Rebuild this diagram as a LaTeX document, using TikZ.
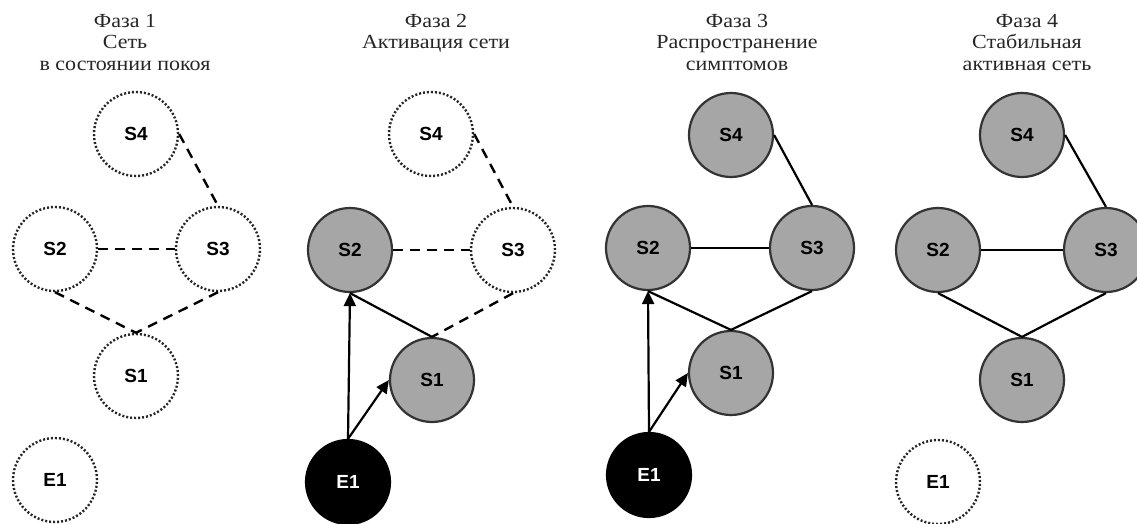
\documentclass[tikz,border=0pt]{standalone}
\usepackage{fontspec}
\usetikzlibrary{arrows.meta}
\newfontfamily\ttlfont[FakeStretch=1.1]{Liberation Serif}
\newfontfamily\lblfont{Liberation Sans}
\definecolor{nodegray}{HTML}{A6A6A6}
\definecolor{rimgray}{HTML}{333333}
\begin{document}
\begin{tikzpicture}[x=1pt,y=-1pt,
  ttl/.style={anchor=base,inner sep=0pt,font=\ttlfont\fontsize{20}{21}\selectfont,text=black!85},
  nd/.style={circle,minimum size=84pt,inner sep=0pt,font=\lblfont\bfseries\fontsize{19}{19}\selectfont},
  sgray/.style={nd,fill=nodegray,draw=rimgray,line width=2.2pt},
  sblack/.style={nd,fill=black,draw=black,line width=2.2pt,text=white},
  sdot/.style={nd,draw=black!85,line width=2.4pt,dash pattern=on 2pt off 2pt},
  dedge/.style={draw=black,line width=2.4pt,dash pattern=on 10pt off 7pt},
  sedge/.style={draw=black,line width=2.2pt},
  arr/.style={sedge,-{Triangle[length=13pt,width=12pt]}}]
\useasboundingbox (0,0) rectangle (1137,524);

% ---------- Panel 1 ----------
\node[ttl] (t1a) at (125,28) {Фаза 1};
\node[ttl] (t1b) at (125,49) {Сеть};
\node[ttl] (t1c) at (125,71) {в состоянии покоя};
\node[sdot] (a4) at (136,134) {S4};
\node[sdot] (a2) at (55,249) {S2};
\node[sdot] (a3) at (218,249) {S3};
\node[sdot] (a1) at (136,376) {S1};
\node[sdot] (ae) at (55,480) {E1};
\draw[dedge] (a4.east) -- (a3.north);
\draw[dedge] (a2.east) -- (a3.west);
\draw[dedge] (a2.south) -- (a1.north);
\draw[dedge] (a3.south) -- (a1.north);

% ---------- Panel 2 ----------
\node[ttl] (t2a) at (436,28) {Фаза 2};
\node[ttl] (t2b) at (436,49) {Активация сети};
\node[sdot] (b4) at (431,134) {S4};
\node[sgray] (b2) at (350,250) {S2};
\node[sdot] (b3) at (513,250) {S3};
\node[sgray] (b1) at (432,380) {S1};
\node[sblack] (be) at (348,482) {E1};
\draw[dedge] (b4.east) -- (b3.north);
\draw[dedge] (b2.east) -- (b3.west);
\draw[sedge] (b2.south) -- (b1.north);
\draw[dedge] (b3.south) -- (b1.north);
\draw[arr] (be.north) -- (b2.south);
\draw[arr] (be.north) -- (b1.west);

% ---------- Panel 3 ----------
\node[ttl] (t3a) at (737,28) {Фаза 3};
\node[ttl] (t3b) at (737,49) {Распространение};
\node[ttl] (t3c) at (737,71) {симптомов};
\node[sgray] (c4) at (731,135) {S4};
\node[sgray] (c2) at (648,248) {S2};
\node[sgray] (c3) at (812,248) {S3};
\node[sgray] (c1) at (731,373) {S1};
\node[sblack] (ce) at (649,475) {E1};
\draw[sedge] (c4.east) -- (c3.north);
\draw[sedge] (c2.east) -- (c3.west);
\draw[sedge] (c2.south) -- (c1.north);
\draw[sedge] (c3.south) -- (c1.north);
\draw[arr] (ce.north) -- (c2.south);
\draw[arr] (ce.north) -- (c1.west);

% ---------- Panel 4 ----------
\node[ttl] (t4a) at (1027,28) {Фаза 4};
\node[ttl] (t4b) at (1027,49) {Стабильная};
\node[ttl] (t4c) at (1027,71) {активная сеть};
\node[sgray] (d4) at (1022,135) {S4};
\node[sgray] (d2) at (938,250) {S2};
\node[sgray] (d3) at (1106,250) {S3};
\node[sgray] (d1) at (1022,380) {S1};
\node[sdot] (de) at (938,482) {E1};
\draw[sedge] (d4.east) -- (d3.north);
\draw[sedge] (d2.east) -- (d3.west);
\draw[sedge] (d2.south) -- (d1.north);
\draw[sedge] (d3.south) -- (d1.north);
\end{tikzpicture}
\end{document}
